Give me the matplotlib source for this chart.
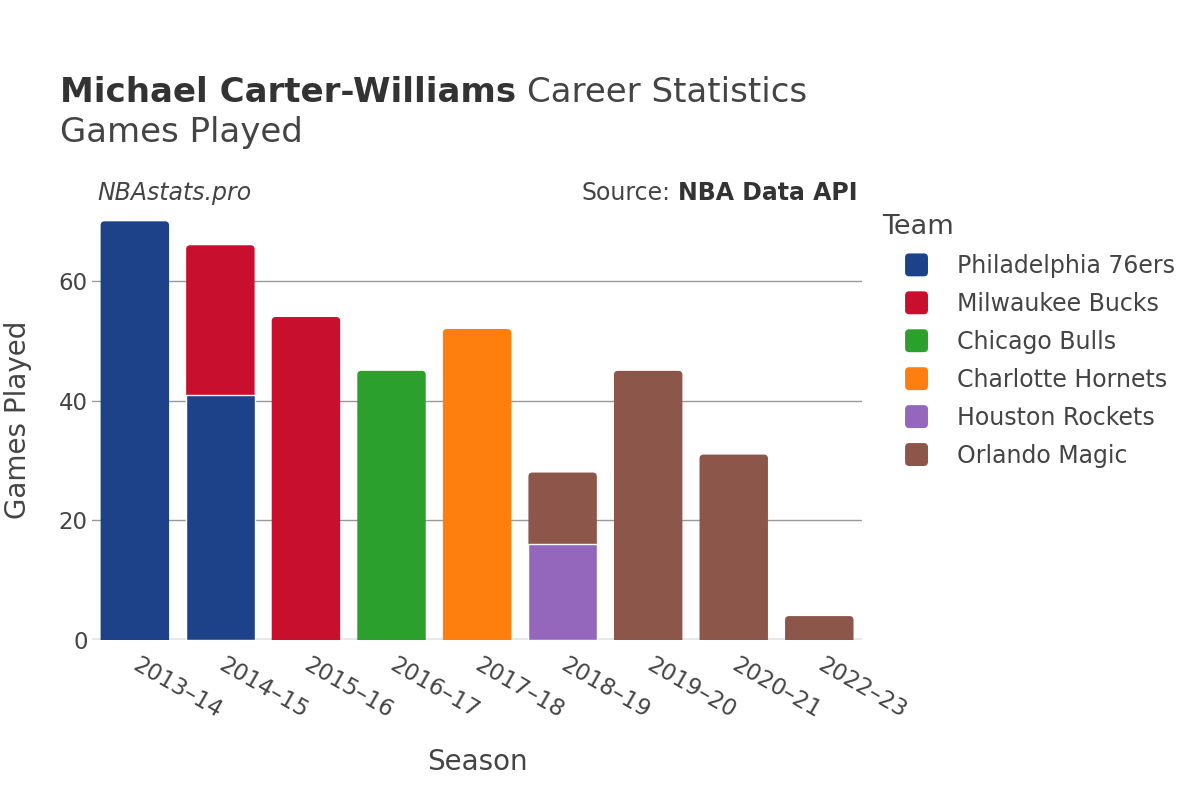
import matplotlib
matplotlib.use("Agg")
import matplotlib.pyplot as plt
from matplotlib.patches import FancyBboxPatch, Patch
from matplotlib.legend_handler import HandlerPatch
import numpy as np

plt.rcParams['font.family'] = ['DejaVu Sans']

seasons = ['2013–14', '2014–15', '2015–16', '2016–17', '2017–18',
           '2018–19', '2019–20', '2020–21', '2022–23']
teams = ['Philadelphia 76ers', 'Milwaukee Bucks', 'Chicago Bulls',
         'Charlotte Hornets', 'Houston Rockets', 'Orlando Magic']
colors = ['#1d428a', '#c8102e', '#2ca02c', '#ff7f0e', '#9467bd', '#8c564b']
# games per team, per season (0 = did not play for that team)
phi = [70, 41, 0, 0, 0, 0, 0, 0, 0]
mil = [0, 25, 54, 0, 0, 0, 0, 0, 0]
chi = [0, 0, 0, 45, 0, 0, 0, 0, 0]
cha = [0, 0, 0, 0, 52, 0, 0, 0, 0]
hou = [0, 0, 0, 0, 0, 16, 0, 0, 0]
orl = [0, 0, 0, 0, 0, 12, 45, 31, 4]
games = [phi, mil, chi, cha, hou, orl]

# stacking order in each season column (bottom first)
order = [0, 4, 1, 2, 3, 5]

txt = '#444444'
fig = plt.figure(figsize=(12, 8), dpi=100)
ax = fig.add_axes([0.0767, 0.2, 0.6417, 0.551])
ax.set_xlim(-0.5, len(seasons) - 0.5)
ax.set_ylim(0, 73.7)

x = np.arange(len(seasons))
w = 0.8
# pixel scale, for rounded corners
xpx = ax.get_position().width * 1200 / (len(seasons))
ypx = ax.get_position().height * 800 / 73.7
aspect = xpx / ypx
r = 4 / xpx

for i in range(len(seasons)):
    bottom = 0
    segs = []
    for t in order:
        v = games[t][i]
        if v > 0:
            segs.append((t, bottom, v))
            bottom += v
    total = bottom
    t_top = segs[-1][0]
    p = FancyBboxPatch((x[i] - w / 2, -5), w, total + 5,
                       boxstyle="round,pad=0,rounding_size=%f" % r,
                       mutation_aspect=aspect, facecolor=colors[t_top],
                       edgecolor='none', zorder=2)
    ax.add_patch(p)
    for (t, b, v) in segs[:-1]:
        ax.bar(x[i], v, w, bottom=b, color=colors[t], edgecolor='white',
               linewidth=1, zorder=3)

ax.set_yticks([0, 20, 40, 60])
ax.yaxis.grid(True, color='#999999', linewidth=1)
ax.set_axisbelow(True)
ax.axhline(0, color='#e8e8e8', linewidth=3, zorder=1.5)
for s in ax.spines.values():
    s.set_visible(False)
ax.tick_params(length=0, labelsize=16.5, labelcolor=txt)
ax.tick_params(axis='y', pad=3)
ax.set_xticks(x)
ax.set_xticklabels(seasons, rotation=-30, ha='left', va='center',
                   rotation_mode='anchor', fontsize=16.5)
ax.tick_params(axis='x', pad=17)
ax.set_xlabel('Season', fontsize=20, color=txt, labelpad=18)
ax.set_ylabel('Games Played', fontsize=20, color=txt, labelpad=19)

fig.canvas.draw()
rend = fig.canvas.get_renderer()

t1 = fig.text(0.05, 0.872, 'Michael Carter-Williams', fontsize=24.5,
              fontweight='bold', color='#333333')
bb = t1.get_window_extent(rend)
fig.text(bb.x1 / 1200 + 0.009, 0.872, 'Career Statistics', fontsize=24.5, color=txt)
fig.text(0.05, 0.8225, 'Games Played', fontsize=24.5, color=txt)
fig.text(0.081, 0.75, 'NBAstats.pro', fontsize=17, style='italic', color=txt)
t2 = fig.text(0.715, 0.75, 'NBA Data API', fontsize=17, fontweight='bold',
              color='#333333', ha='right')
bb2 = t2.get_window_extent(rend)
fig.text(bb2.x0 / 1200 - 0.0065, 0.75, 'Source:', fontsize=17, color=txt,
         ha='right')


class RoundBox(HandlerPatch):
    def create_artists(self, legend, orig, xd, yd, width, height, fontsize, trans):
        s = 16.5
        cx = xd + 25
        p = FancyBboxPatch((cx - s / 2, yd + height / 2 - s / 2), s, s,
                           boxstyle="round,pad=0,rounding_size=3",
                           facecolor=orig.get_facecolor(), edgecolor='none',
                           transform=trans)
        return [p]


handles = [Patch(facecolor=c) for c in colors]
leg = fig.legend(handles, teams, loc='upper left', bbox_to_anchor=(0.725, 0.747),
                 frameon=False, fontsize=17, title='Team', title_fontsize=19.5,
                 labelspacing=0.59, handletextpad=0.8, handlelength=2.4,
                 borderpad=0, labelcolor=txt, handler_map={Patch: RoundBox()})
leg._legend_box.align = 'left'
leg.get_title().set_color(txt)

fig.savefig('out.png', dpi=100)
